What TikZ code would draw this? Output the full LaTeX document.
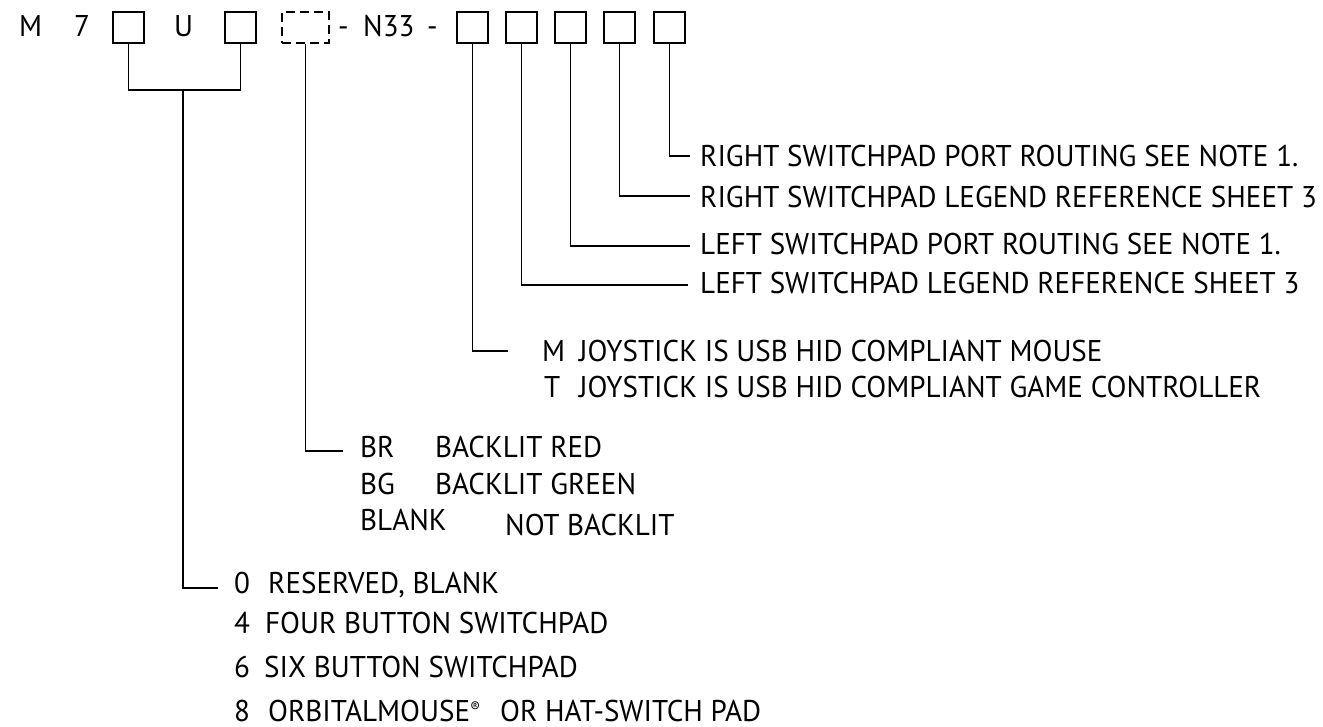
\documentclass[tikz,border=0pt]{standalone}
\usepackage{fontspec}
\setmainfont[FakeStretch=0.97]{PT Sans}
\begin{document}
\begin{tikzpicture}[x=1pt,y=-1pt,
  txt/.style={inner sep=0pt,anchor=base west,font=\fontsize{30}{32}\selectfont},
  codebox/.style={draw,line width=1.6pt,minimum width=31pt,minimum height=31pt,inner sep=0pt,anchor=north west},
  dbox/.style={draw,line width=1.6pt,dash pattern=on 9pt off 5pt,minimum width=47pt,minimum height=31pt,inner sep=0pt,anchor=north west},
  wire/.style={line width=1.6pt}]
\useasboundingbox (0,0) rectangle (1323,727);
% top row
\node[txt] (tM) at (19,37) {M};
\node[txt] (t7) at (74,37) {7};
\node[codebox] (b1) at (112,11) {};
\node[txt] (tU) at (174,37) {U};
\node[codebox] (b2) at (224,11) {};
\node[dbox] (bd) at (281,11) {};
\node[txt] (td1) at (338,37) {-};
\node[txt] (tN) at (363,37) {N33};
\node[txt] (td2) at (427,37) {-};
\node[codebox] (b3) at (456,11) {};
\node[codebox] (b4) at (505,11) {};
\node[codebox] (b5) at (554,11) {};
\node[codebox] (b6) at (603,11) {};
\node[codebox] (b7) at (653,11) {};
% right labels
\node[txt] (r1) at (700,167) {RIGHT SWITCHPAD PORT ROUTING SEE NOTE 1.};
\node[txt] (r2) at (700,208) {RIGHT SWITCHPAD LEGEND REFERENCE SHEET 3};
\node[txt] (r3) at (700,255) {LEFT SWITCHPAD PORT ROUTING SEE NOTE 1.};
\node[txt] (r4) at (700,294) {LEFT SWITCHPAD LEGEND REFERENCE SHEET 3};
\node[txt] (jm) at (542,362) {M};
\node[txt] (jm2) at (579,362) {JOYSTICK IS USB HID COMPLIANT MOUSE};
\node[txt] (jt) at (544,397) {T};
\node[txt] (jt2) at (579,397) {JOYSTICK IS USB HID COMPLIANT GAME CONTROLLER};
% backlight
\node[txt] (br) at (360,457) {BR};
\node[txt] (br2) at (435,457) {BACKLIT RED};
\node[txt] (bg) at (360,494) {BG};
\node[txt] (bg2) at (435,494) {BACKLIT GREEN};
\node[txt] (bb) at (360,530) {BLANK};
\node[txt] (bb2) at (505,535) {NOT BACKLIT};
% switchpad type
\node[txt] (s0) at (234,593) {0};
\node[txt] (s0b) at (268,593) {RESERVED, BLANK};
\node[txt] (s4) at (234,633) {4};
\node[txt] (s4b) at (265,633) {FOUR BUTTON SWITCHPAD};
\node[txt] (s6) at (234,677) {6};
\node[txt] (s6b) at (264,677) {SIX BUTTON SWITCHPAD};
\node[txt] (s8) at (234,721) {8};
\node[txt] (s8b) at (268,721) {ORBITALMOUSE\raisebox{9pt}{\fontsize{15}{15}\selectfont ®}};
\node[txt] (s8c) at (500,721) {OR HAT-SWITCH PAD};
% connectors
\coordinate (jn) at (183,90);
\coordinate (e0) at (218,588);
\coordinate (ed) at (343,451);
\coordinate (e3) at (508,351);
\coordinate (e4) at (688,285);
\coordinate (e5) at (690,246);
\coordinate (e6) at (690,196);
\coordinate (e7) at (690,156);
\draw[wire] (b1.south) |- (jn) -| (b2.south);
\draw[wire] (jn) |- (e0);
\draw[wire] (bd.south) |- (ed);
\draw[wire] (b3.south) |- (e3);
\draw[wire] (b4.south) |- (e4);
\draw[wire] (b5.south) |- (e5);
\draw[wire] (b6.south) |- (e6);
\draw[wire] (b7.south) |- (e7);
\end{tikzpicture}
\end{document}
